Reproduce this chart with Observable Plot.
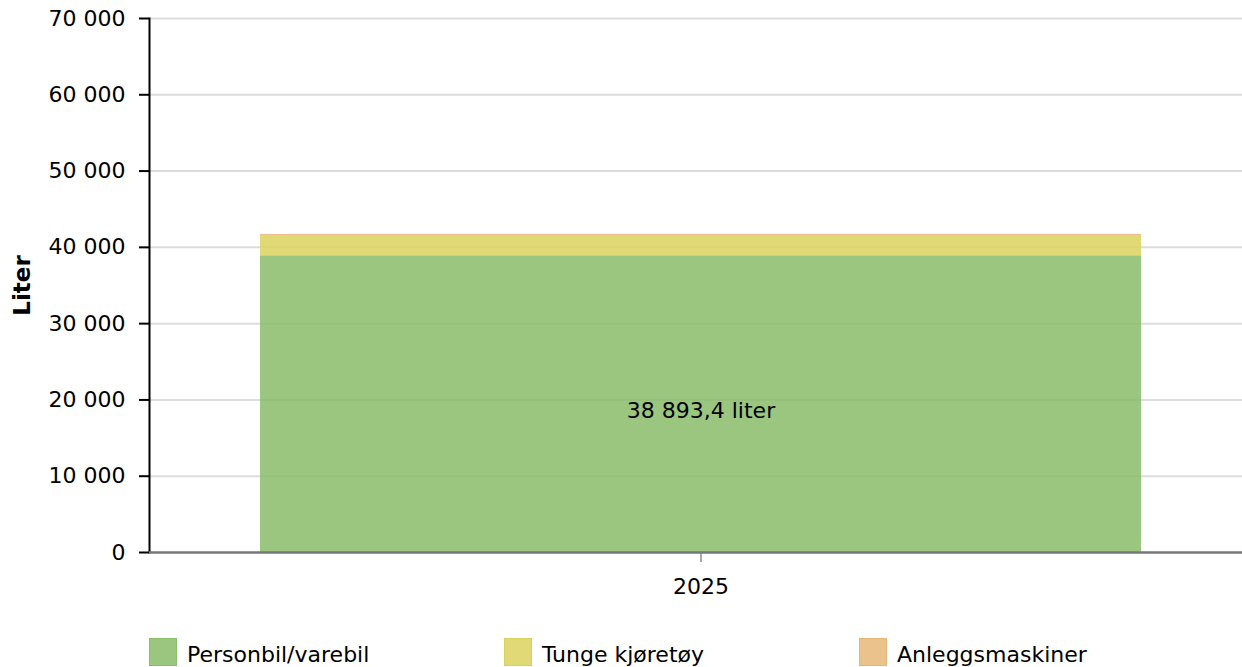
<!DOCTYPE html>
<html>
<head>
<meta charset="utf-8">
<script src="https://cdn.jsdelivr.net/npm/d3@7"></script>
<script src="https://cdn.jsdelivr.net/npm/@observablehq/plot@0.6"></script>
<style>
  html, body { margin: 0; padding: 0; background: #fff; overflow: hidden; }
  body { width: 1242px; height: 667px; font-family: "DejaVu Sans", Verdana, sans-serif; }
  #legend { position: relative; height: 57px; }
  .item { position: absolute; top: 28px; display: flex; align-items: flex-start; font-size: 22px; color: #000; line-height: 26px; }
  .sw { width: 26px; height: 26px; border: 1px solid; box-sizing: content-box; margin-right: 10px; }
  .lbl { margin-top: 4px; }
</style>
</head>
<body>
<div id="chart"></div>
<div id="legend"></div>
<script>
const years = ["2025"];
const categories = ["Personbil/varebil", "Tunge kjøretøy", "Anleggsmaskiner"];
const personbil = [38893.4];
const tunge = [2550];
const anlegg = [250];
const colors = ["#89bc68", "#dad25d", "#e8b778"];
const swatchFill = ["#9bc67f", "#e0d975", "#ebc28c"];
const swatchStroke = ["#8cbf6c", "#d9d060", "#e6b678"];
const yTicks = [0, 10000, 20000, 30000, 40000, 50000, 60000, 70000];

const series = [personbil, tunge, anlegg];
const data = [];
years.forEach((yr, i) => {
  categories.forEach((c, j) => data.push({year: yr, cat: c, value: series[j][i]}));
});

const loc = d3.formatLocale({decimal: ",", thousands: " ", grouping: [3], currency: ["", ""]});
const fmtInt = loc.format(",d");
const fmtDec = loc.format(",.1f");

const labels = years.map((yr, i) => ({year: yr, value: personbil[i], text: fmtDec(personbil[i]) + " liter"}));

const chart = Plot.plot({
  width: 1242,
  height: 610,
  marginLeft: 149,
  marginRight: 0,
  marginTop: 18,
  marginBottom: 58,
  style: {fontFamily: "DejaVu Sans, Verdana, sans-serif", fontSize: "22px", color: "#000", background: "#fff"},
  x: {domain: years, range: [149, 1251], padding: 0.111, label: null},
  y: {domain: [0, 70000], label: null},
  color: {domain: categories, range: colors},
  marks: [
    Plot.ruleY(yTicks.filter(d => d > 0), {stroke: "#dcdcdc", strokeWidth: 2}),
    Plot.barY(data, {x: "year", y: "value", fill: "cat", fillOpacity: 0.85}),
    Plot.text(labels, {x: "year", y: d => d.value / 2, text: "text", fontSize: 22, fill: "#000", dy: 7}),
    Plot.axisY({ticks: yTicks, tickFormat: fmtInt, tickSize: 10, tickPadding: 14, stroke: "#000", strokeWidth: 2, strokeOpacity: 1, fontSize: 22, label: null}),
    Plot.frame({anchor: "left", stroke: "#000", strokeWidth: 2}),
    Plot.axisX({tickSize: 10, tickPadding: 16, stroke: "#aaa", strokeWidth: 2, fontSize: 22, label: null}),
    Plot.ruleY([0], {stroke: "#777", strokeWidth: 2.5}),
    Plot.text(["Liter"], {frameAnchor: "left", textAnchor: "middle", dx: -127, rotate: -90, fontWeight: "bold", fontSize: 23, fill: "#000"})
  ]
});
document.getElementById("chart").appendChild(chart);

const legend = document.getElementById("legend");
const xs = [149, 504, 859];
categories.forEach((c, i) => {
  const it = document.createElement("div");
  it.className = "item";
  it.style.left = xs[i] + "px";
  const sw = document.createElement("div");
  sw.className = "sw";
  sw.style.background = swatchFill[i];
  sw.style.borderColor = swatchStroke[i];
  const lb = document.createElement("div");
  lb.className = "lbl";
  lb.textContent = c;
  it.appendChild(sw);
  it.appendChild(lb);
  legend.appendChild(it);
});
</script>
</body>
</html>
